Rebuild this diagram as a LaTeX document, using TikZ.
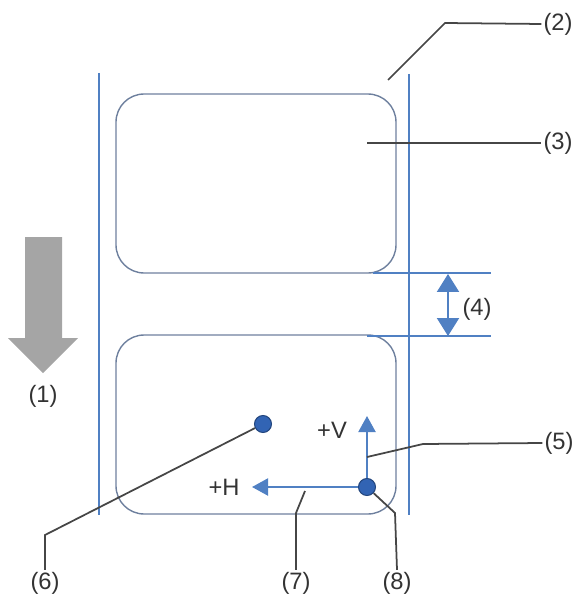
\documentclass[tikz,border=0pt]{standalone}
\usepackage{fontspec}
\setmainfont{Liberation Sans}
\usetikzlibrary{arrows.meta}
\definecolor{liner}{RGB}{80,128,195}
\definecolor{labeledge}{RGB}{110,128,158}
\definecolor{leader}{RGB}{70,70,70}
\definecolor{dotblue}{RGB}{50,100,180}
\definecolor{feedgray}{RGB}{165,165,165}
\tikzset{
  callout/.style={font=\fontsize{13.5}{15}\selectfont, text=black!80, inner sep=1pt},
  leaderline/.style={draw=leader, line width=1pt},
  labelbox/.style={draw=labeledge, line width=0.8pt, rounded corners=16pt},
  bluearrow/.style={draw=liner, line width=1.2pt, -{Triangle[width=0.34cm, length=0.32cm]}},
  posdot/.style={circle, fill=dotblue, draw=dotblue!70!black, line width=0.6pt, minimum size=0.34cm, inner sep=0pt}
}

\begin{document}
\begin{tikzpicture}[x=0.02cm, y=-0.02cm]
\useasboundingbox (0,0) rectangle (579,601);

\draw[liner, line width=1.2pt] (99,73) -- (99,515);
\draw[liner, line width=1.2pt] (409,74) -- (409,515);

\draw[labelbox] (116,94) rectangle (396,273);
\draw[labelbox] (116,335) rectangle (396,514);

\draw[liner, line width=0.8pt] (373,273) -- (491,273);
\draw[liner, line width=0.8pt] (367,336) -- (491,336);
\coordinate (gaptop) at (448,274);
\coordinate (gapbot) at (448,336);
\draw[liner, line width=1.2pt, {Triangle[width=0.44cm, length=0.36cm]}-{Triangle[width=0.44cm, length=0.36cm]}] (gaptop) -- (gapbot);

\fill[feedgray] (25,237) -- (62,237) -- (62,338) -- (78,338) -- (43,373) -- (8,338) -- (25,338) -- cycle;

\node[posdot] (dot6) at (263,424) {};
\node[posdot] (dot8) at (367,487) {};
\coordinate (vtip) at (367,416);
\coordinate (htip) at (252,487);
\draw[bluearrow] (dot8) -- (vtip);
\draw[bluearrow] (dot8) -- (htip);
\node[callout] (plusv) at (332,430) {+V};
\node[callout] (plush) at (224,487) {+H};

\node[callout] (lab1) at (43,396) {(1)};
\node[callout] (lab2) at (558,24) {(2)};
\node[callout] (lab3) at (558,143) {(3)};
\node[callout] (lab4) at (477,309) {(4)};
\node[callout] (lab5) at (559,443) {(5)};
\node[callout] (lab6) at (45,583) {(6)};
\node[callout] (lab7) at (296,583) {(7)};
\node[callout] (lab8) at (397,583) {(8)};

\coordinate (p2) at (388,80);
\coordinate (p3) at (367,143);
\coordinate (p5) at (367,457);
\coordinate (p7) at (305,491);
\draw[leaderline] (p2) -- (445,23) -- (lab2.west);
\draw[leaderline] (p3) -- (lab3.west);
\draw[leaderline] (p5) -- (423,444) -- (lab5.west);
\draw[leaderline] (dot6) -- (45,535) -- (lab6.north);
\draw[leaderline] (p7) -- (296,513) -- (lab7.north);
\draw[leaderline] (dot8) -- (395,513) -- (lab8.north);
\end{tikzpicture}
\end{document}
